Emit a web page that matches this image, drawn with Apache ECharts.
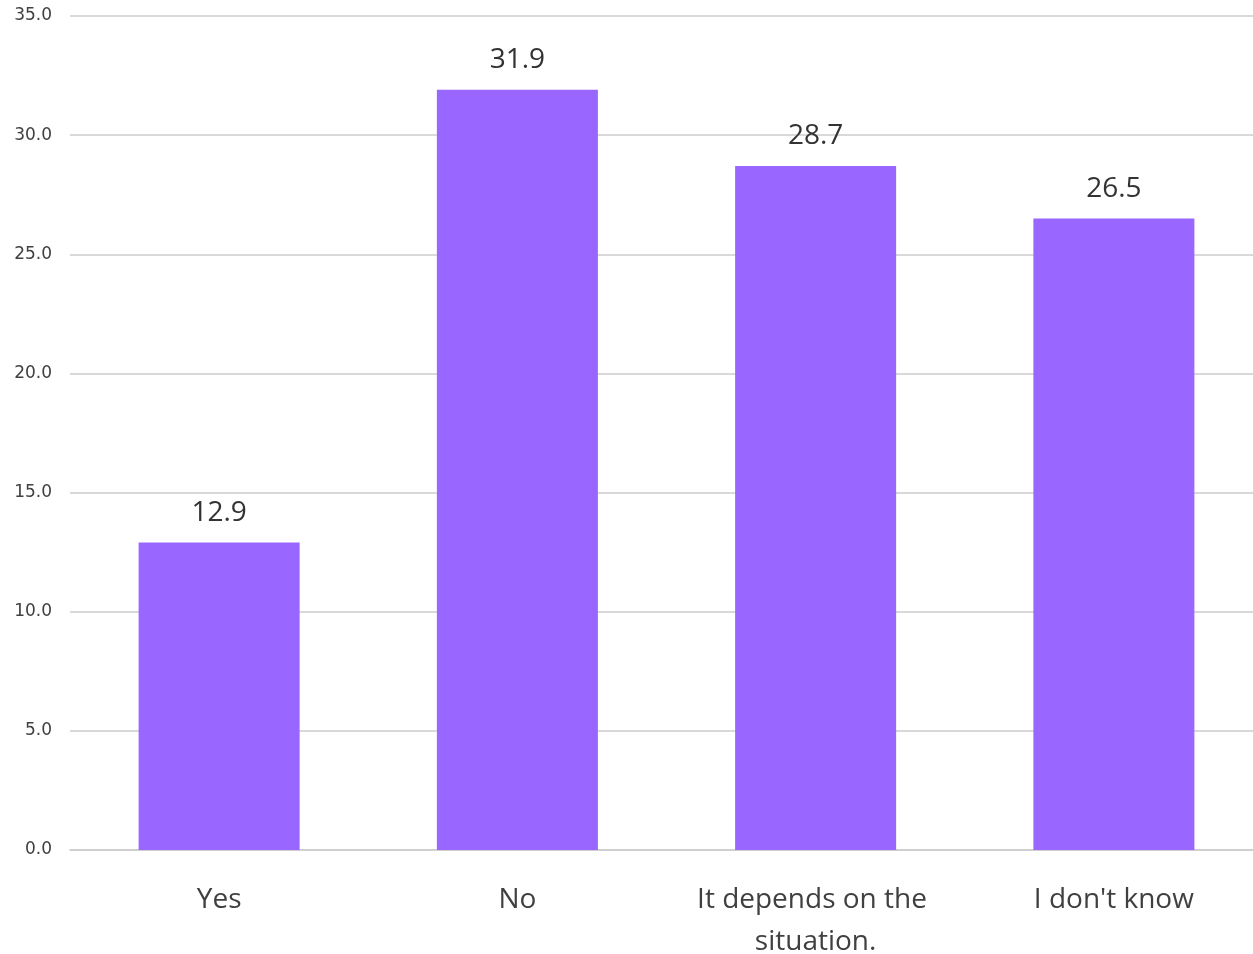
<!DOCTYPE html>
<html>
<head>
<meta charset="utf-8">
<script src="https://cdn.jsdelivr.net/npm/echarts@6/dist/echarts.min.js"></script>
<style>
html,body{margin:0;padding:0;background:#fff;}
#c{width:1253px;height:954px;}
</style>
</head>
<body>
<div id="c"></div>
<script>
const categories = ["Yes", "No", "It depends on the situation.", "I don't know"];
const values = [12.9, 31.9, 28.7, 26.5];
const yTicks = { min: 0, max: 35, interval: 5 };

const chart = echarts.init(document.getElementById('c'), null, { renderer: 'canvas' });
chart.setOption({
  animation: false,
  backgroundColor: '#ffffff',
  grid: { left: 70, right: -10, top: 16, bottom: 104, containLabel: false, outerBoundsMode: 'none' },
  xAxis: {
    type: 'category',
    data: categories,
    axisLine: { show: true, lineStyle: { color: '#cccccc', width: 1.5 } },
    axisTick: { show: false },
    axisLabel: {
      color: '#404040',
      fontFamily: 'Open Sans',
      fontSize: 28,
      lineHeight: 42,
      margin: 29,
      interval: 0,
      width: 280,
      overflow: 'break'
    }
  },
  yAxis: {
    type: 'value',
    min: yTicks.min,
    max: yTicks.max,
    interval: yTicks.interval,
    axisLine: { show: false },
    axisTick: { show: false },
    splitLine: { show: true, lineStyle: { color: '#cccccc', width: 1.5 } },
    axisLabel: {
      color: '#404040',
      fontFamily: 'DejaVu Sans',
      fontSize: 17,
      margin: 18,
      formatter: v => v.toFixed(1)
    }
  },
  series: [{
    type: 'bar',
    data: values,
    barWidth: 161,
    itemStyle: { color: '#9966ff' },
    label: {
      show: true,
      position: 'top',
      distance: 15,
      color: '#333333',
      fontFamily: 'Open Sans',
      fontSize: 28,
      lineHeight: 30,
      formatter: p => p.value.toFixed(1)
    }
  }]
});
</script>
</body>
</html>
